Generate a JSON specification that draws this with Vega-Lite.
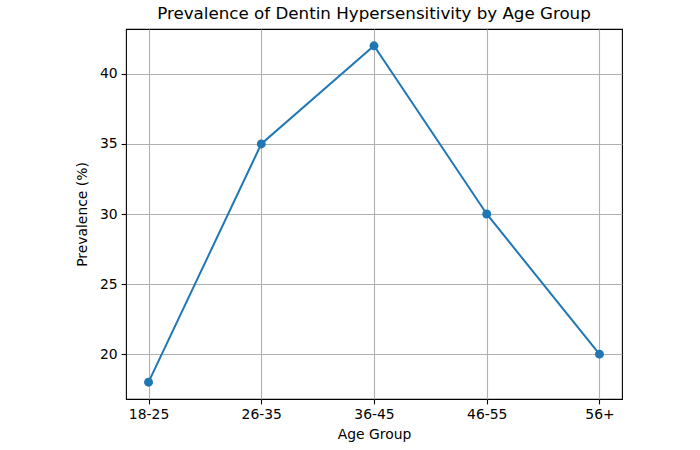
{
  "$schema": "https://vega.github.io/schema/vega-lite/v6.json",
  "autosize": {"type": "none"},
  "width": 496,
  "height": 370,
  "padding": {"left": 126, "top": 29, "right": 78, "bottom": 51},
  "background": "#ffffff",
  "config": {
    "font": "DejaVu Sans",
    "view": {"stroke": "#000000", "strokeWidth": 1.1}
  },
  "title": {
    "text": "Prevalence of Dentin Hypersensitivity by Age Group",
    "fontSize": 16.7,
    "fontWeight": "normal",
    "color": "#000000",
    "font": "DejaVu Sans",
    "offset": 6
  },
  "data": {
    "values": [
      {"age_group": "18-25", "prevalence": 18},
      {"age_group": "26-35", "prevalence": 35},
      {"age_group": "36-45", "prevalence": 42},
      {"age_group": "46-55", "prevalence": 30},
      {"age_group": "56+", "prevalence": 20}
    ]
  },
  "encoding": {
    "x": {
      "field": "age_group",
      "type": "ordinal",
      "sort": null,
      "scale": {"type": "point", "padding": 0.2},
      "axis": {
        "title": "Age Group",
        "labelAngle": 0,
        "labelFontSize": 13.9,
        "titleFontSize": 13.9,
        "titleFontWeight": "normal",
        "labelColor": "#000000",
        "titleColor": "#000000",
        "grid": true,
        "gridColor": "#b0b0b0",
        "gridWidth": 1.1,
        "domain": false,
        "tickColor": "#000000",
        "tickSize": 4.9,
        "tickWidth": 1.1,
        "labelPadding": 4,
        "titlePadding": 6
      }
    },
    "y": {
      "field": "prevalence",
      "type": "quantitative",
      "scale": {"domain": [16.8, 43.2], "nice": false, "zero": false},
      "axis": {
        "title": "Prevalence (%)",
        "values": [20, 25, 30, 35, 40],
        "labelFontSize": 13.9,
        "titleFontSize": 13.9,
        "titleFontWeight": "normal",
        "labelColor": "#000000",
        "titleColor": "#000000",
        "grid": true,
        "gridColor": "#b0b0b0",
        "gridWidth": 1.1,
        "domain": false,
        "tickColor": "#000000",
        "tickSize": 4.9,
        "tickWidth": 1.1,
        "labelPadding": 4,
        "titlePadding": 10
      }
    }
  },
  "layer": [
    {"mark": {"type": "line", "color": "#1f77b4", "strokeWidth": 2}},
    {"mark": {"type": "point", "filled": true, "opacity": 1, "color": "#1f77b4", "size": 80}}
  ]
}
